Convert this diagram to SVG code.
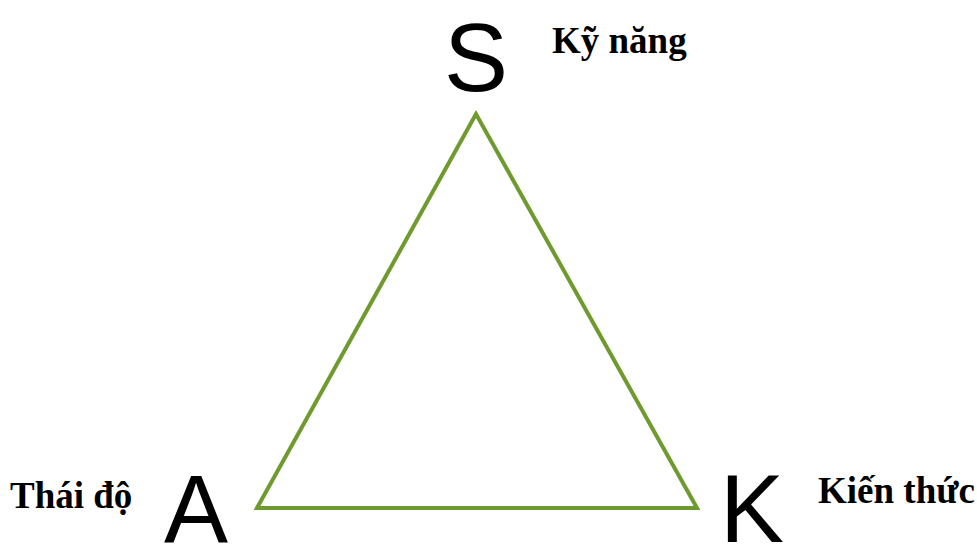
<svg xmlns="http://www.w3.org/2000/svg" width="977" height="548" viewBox="0 0 977 548">
<style>
.big{font-family:"Liberation Sans",Arial,sans-serif;font-size:96px;fill:#000}
.lbl{font-family:"Liberation Serif","Times New Roman",serif;font-size:37px;font-weight:bold;fill:#000}
</style>
<rect width="977" height="548" fill="#fff"/>
<g id="connectors">
<polygon points="476,114 257,508 697,508" fill="none" stroke="#6e9a2e" stroke-width="4" stroke-linejoin="miter"/>
</g>
<g id="node-S"><text class="big" x="476" y="91" text-anchor="middle">S</text></g>
<g id="node-A"><text class="big" x="196" y="542" text-anchor="middle">A</text></g>
<g id="node-K"><text class="big" x="752" y="542" text-anchor="middle">K</text></g>
<g id="label-S"><text class="lbl" x="552" y="53">Kỹ năng</text></g>
<g id="label-A"><text class="lbl" x="10" y="508">Thái độ</text></g>
<g id="label-K"><text class="lbl" x="818" y="503">Kiến thức</text></g>
</svg>
